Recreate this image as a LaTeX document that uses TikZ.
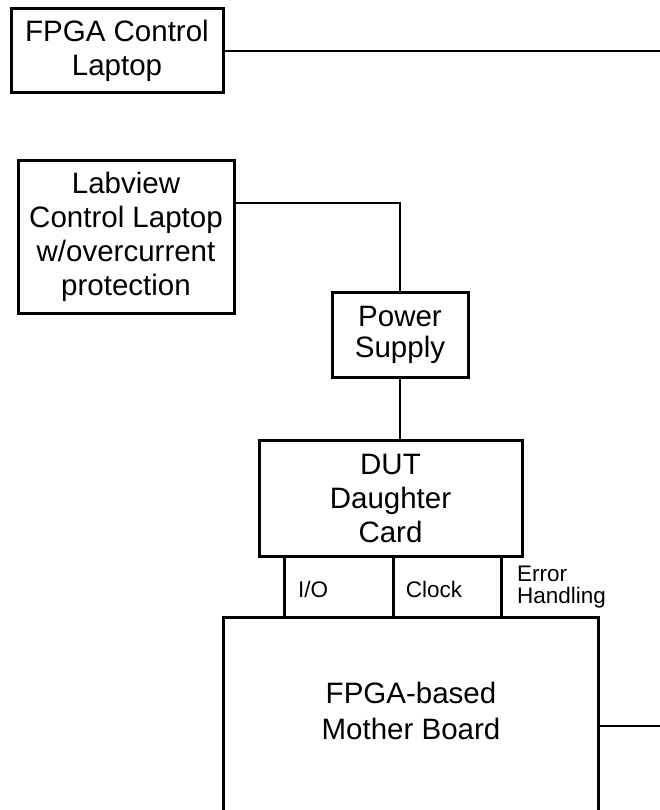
\documentclass[tikz,border=0pt]{standalone}
\usepackage{fontspec}
\setmainfont{Liberation Sans}
\begin{document}
\begin{tikzpicture}[x=1pt,y=-1pt,
  box/.style={draw=black,line width=3pt,inner sep=0pt,align=center,
    font=\fontsize{29.5}{34}\selectfont},
  wire/.style={draw=black,line width=2.4pt},
  small/.style={inner sep=0pt,font=\fontsize{22.5}{22}\selectfont},
  big/.style={inner sep=0pt,align=center,font=\fontsize{29.5}{36}\selectfont}]
\useasboundingbox (0,0) rectangle (660,810);
\clip (0,0) rectangle (660,810);
% boxes
\node[box,minimum width=212pt,minimum height=84pt] (fpga) at (117,51) {FPGA Control\\Laptop};
\node[box,minimum width=216pt,minimum height=152pt] (lab) at (126,237) {Labview\\Control Laptop\\w/overcurrent\\protection};
\node[box,minimum width=136pt,minimum height=85pt,font=\fontsize{29.5}{31}\selectfont] (ps) at (400,334.5) {Power\\Supply};
\node[box,minimum width=263pt,minimum height=116pt] (dut) at (390.5,498) {DUT\\Daughter\\Card};
\node[box,minimum width=375pt,minimum height=223pt] (mb) at (410.5,728.5) {};
\node[big] (mbtext) at (411,711) {FPGA-based\\Mother Board};
% edge coordinates
\coordinate (fpgaend) at (660,51);
\coordinate (mbend) at (660,726);
\coordinate (labturn) at (400,203);
% connectors
\draw[wire] (fpga.east |- fpgaend) -- (fpgaend);
\draw[wire] (lab.east |- labturn) -- (labturn) -- (ps.north);
\draw[wire] (ps.south) -- (ps.south |- dut.north);
\draw[wire] (mb.east |- mbend) -- (mbend);
% interface lines
\coordinate (io) at (284,0);
\coordinate (clk) at (393,0);
\coordinate (err) at (501,0);
\draw[wire,line width=3pt] (io |- dut.south) -- (io |- mb.north);
\draw[wire,line width=3pt] (clk |- dut.south) -- (clk |- mb.north);
\draw[wire,line width=3pt] (err |- dut.south) -- (err |- mb.north);
% labels
\node[small,anchor=base] (iolab) at (313,597) {I/O};
\node[small,anchor=base] (clklab) at (434,597) {Clock};
\node[small,anchor=north west,align=left] (errlab) at (517,566) {Error\\Handling};
\end{tikzpicture}
\end{document}
